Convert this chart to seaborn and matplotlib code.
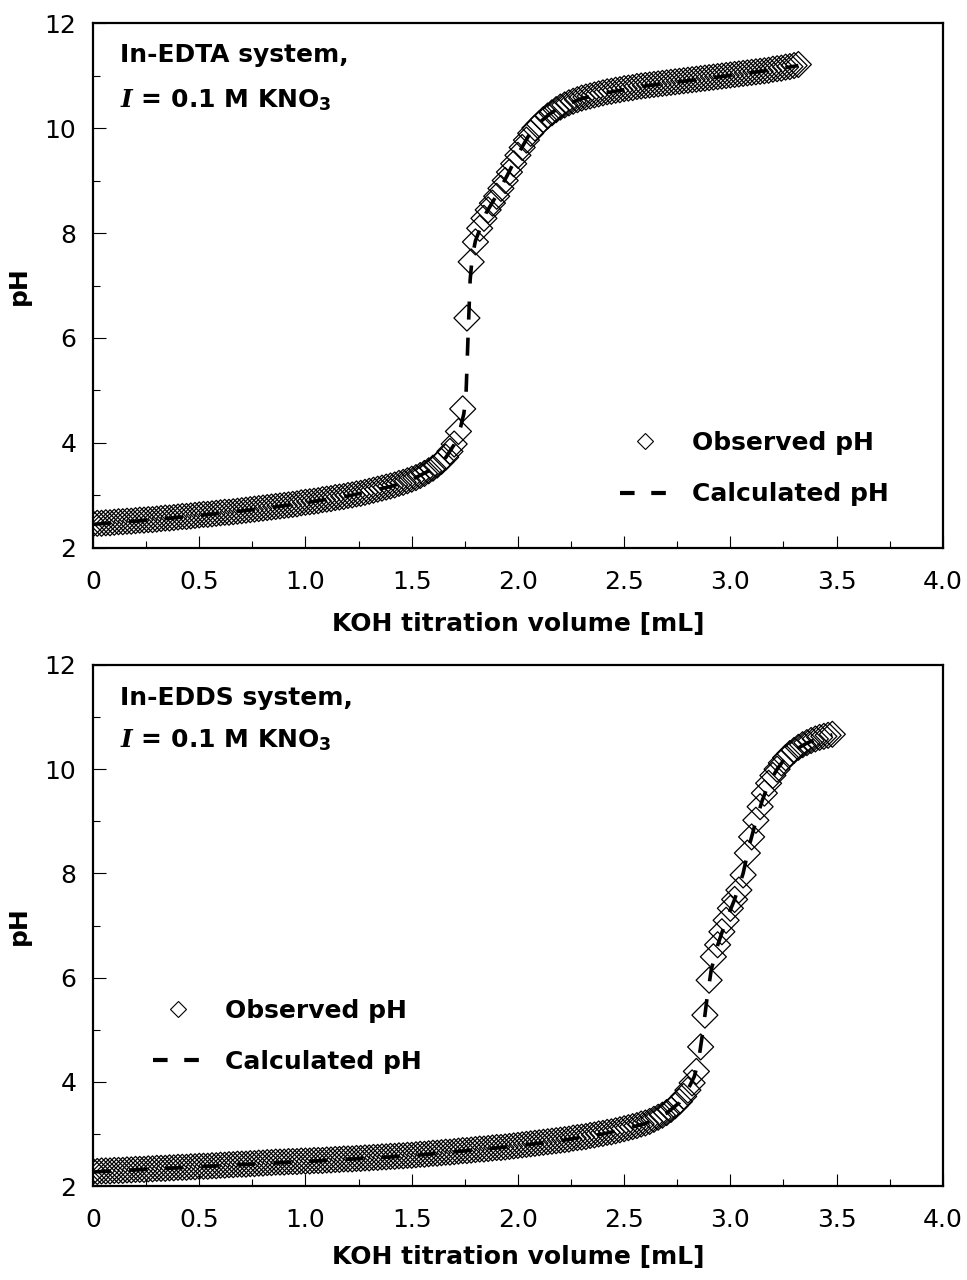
import matplotlib
matplotlib.use("Agg")
import matplotlib.pyplot as plt
from matplotlib.lines import Line2D
from matplotlib.ticker import MultipleLocator
import seaborn as sns

# In-EDTA system: observed titration points (KOH volume in mL, pH)
edta_vol = [
    0.00, 0.02, 0.04, 0.06, 0.08, 0.10, 0.12, 0.14, 0.16, 0.18,
    0.20, 0.22, 0.24, 0.26, 0.28, 0.30, 0.32, 0.34, 0.36, 0.38,
    0.40, 0.42, 0.44, 0.46, 0.48, 0.50, 0.52, 0.54, 0.56, 0.58,
    0.60, 0.62, 0.64, 0.66, 0.68, 0.70, 0.72, 0.74, 0.76, 0.78,
    0.80, 0.82, 0.84, 0.86, 0.88, 0.90, 0.92, 0.94, 0.96, 0.98,
    1.00, 1.02, 1.04, 1.06, 1.08, 1.10, 1.12, 1.14, 1.16, 1.18,
    1.20, 1.22, 1.24, 1.26, 1.28, 1.30, 1.32, 1.34, 1.36, 1.38,
    1.40, 1.42, 1.44, 1.46, 1.48, 1.50, 1.52, 1.54, 1.56, 1.58,
    1.60, 1.62, 1.64, 1.66, 1.68, 1.70, 1.72, 1.74, 1.76, 1.78,
    1.80, 1.82, 1.84, 1.86, 1.88, 1.90, 1.92, 1.94, 1.96, 1.98,
    2.00, 2.02, 2.04, 2.06, 2.08, 2.10, 2.12, 2.14, 2.16, 2.18,
    2.20, 2.22, 2.24, 2.26, 2.28, 2.30, 2.32, 2.34, 2.36, 2.38,
    2.40, 2.42, 2.44, 2.46, 2.48, 2.50, 2.52, 2.54, 2.56, 2.58,
    2.60, 2.62, 2.64, 2.66, 2.68, 2.70, 2.72, 2.74, 2.76, 2.78,
    2.80, 2.82, 2.84, 2.86, 2.88, 2.90, 2.92, 2.94, 2.96, 2.98,
    3.00, 3.02, 3.04, 3.06, 3.08, 3.10, 3.12, 3.14, 3.16, 3.18,
    3.20, 3.22, 3.24, 3.26, 3.28, 3.30, 3.32,
]
edta_ph = [
    2.46, 2.47, 2.47, 2.48, 2.48, 2.49, 2.50, 2.50, 2.51, 2.51,
    2.52, 2.53, 2.53, 2.54, 2.54, 2.55, 2.56, 2.57, 2.57, 2.58,
    2.59, 2.60, 2.60, 2.61, 2.62, 2.63, 2.64, 2.64, 2.65, 2.66,
    2.67, 2.68, 2.68, 2.69, 2.70, 2.71, 2.72, 2.73, 2.74, 2.75,
    2.76, 2.77, 2.78, 2.79, 2.80, 2.81, 2.82, 2.83, 2.84, 2.86,
    2.87, 2.88, 2.89, 2.90, 2.92, 2.93, 2.94, 2.96, 2.97, 2.98,
    3.00, 3.01, 3.03, 3.04, 3.06, 3.08, 3.10, 3.12, 3.14, 3.16,
    3.18, 3.20, 3.23, 3.25, 3.28, 3.31, 3.34, 3.38, 3.42, 3.47,
    3.52, 3.58, 3.65, 3.73, 3.84, 3.98, 4.22, 4.65, 6.38, 7.45,
    7.83, 8.09, 8.28, 8.44, 8.57, 8.70, 8.85, 9.00, 9.16, 9.32,
    9.48, 9.63, 9.77, 9.90, 10.00, 10.08, 10.16, 10.23, 10.29, 10.35,
    10.40, 10.44, 10.48, 10.51, 10.54, 10.57, 10.59, 10.61, 10.63, 10.65,
    10.67, 10.69, 10.70, 10.72, 10.73, 10.75, 10.76, 10.77, 10.79, 10.80,
    10.81, 10.82, 10.83, 10.84, 10.85, 10.86, 10.87, 10.88, 10.89, 10.90,
    10.91, 10.92, 10.93, 10.94, 10.95, 10.96, 10.97, 10.98, 10.99, 11.00,
    11.01, 11.02, 11.03, 11.04, 11.05, 11.06, 11.07, 11.08, 11.09, 11.10,
    11.12, 11.13, 11.14, 11.16, 11.17, 11.19, 11.21,
]

# In-EDTA system: calculated curve
edta_calc_vol = [0.00, 0.20, 0.40, 0.60, 0.80, 1.00, 1.20, 1.40, 1.50, 1.60,
                 1.66, 1.70, 1.73, 1.745, 1.755, 1.765, 1.775, 1.785, 1.80, 1.85,
                 1.90, 1.95, 2.00, 2.05, 2.10, 2.15, 2.20, 2.30, 2.40, 2.60,
                 2.80, 3.00, 3.20, 3.32]
edta_calc_ph = [2.45, 2.51, 2.58, 2.66, 2.75, 2.86, 2.99, 3.17, 3.30, 3.51,
                3.72, 3.97, 4.30, 4.55, 4.85, 6.00, 7.10, 7.55, 7.85, 8.38,
                8.72, 9.10, 9.50, 9.85, 10.10, 10.27, 10.40, 10.56, 10.66, 10.80,
                10.90, 11.00, 11.11, 11.19]

# In-EDDS system: observed titration points
edds_vol = [
    0.00, 0.02, 0.04, 0.06, 0.08, 0.10, 0.12, 0.14, 0.16, 0.18,
    0.20, 0.22, 0.24, 0.26, 0.28, 0.30, 0.32, 0.34, 0.36, 0.38,
    0.40, 0.42, 0.44, 0.46, 0.48, 0.50, 0.52, 0.54, 0.56, 0.58,
    0.60, 0.62, 0.64, 0.66, 0.68, 0.70, 0.72, 0.74, 0.76, 0.78,
    0.80, 0.82, 0.84, 0.86, 0.88, 0.90, 0.92, 0.94, 0.96, 0.98,
    1.00, 1.02, 1.04, 1.06, 1.08, 1.10, 1.12, 1.14, 1.16, 1.18,
    1.20, 1.22, 1.24, 1.26, 1.28, 1.30, 1.32, 1.34, 1.36, 1.38,
    1.40, 1.42, 1.44, 1.46, 1.48, 1.50, 1.52, 1.54, 1.56, 1.58,
    1.60, 1.62, 1.64, 1.66, 1.68, 1.70, 1.72, 1.74, 1.76, 1.78,
    1.80, 1.82, 1.84, 1.86, 1.88, 1.90, 1.92, 1.94, 1.96, 1.98,
    2.00, 2.02, 2.04, 2.06, 2.08, 2.10, 2.12, 2.14, 2.16, 2.18,
    2.20, 2.22, 2.24, 2.26, 2.28, 2.30, 2.32, 2.34, 2.36, 2.38,
    2.40, 2.42, 2.44, 2.46, 2.48, 2.50, 2.52, 2.54, 2.56, 2.58,
    2.60, 2.62, 2.64, 2.66, 2.68, 2.70, 2.72, 2.74, 2.76, 2.78,
    2.80, 2.82, 2.84, 2.86, 2.88, 2.90, 2.92, 2.94, 2.96, 2.98,
    3.00, 3.02, 3.04, 3.06, 3.08, 3.10, 3.12, 3.14, 3.16, 3.18,
    3.20, 3.22, 3.24, 3.26, 3.28, 3.30, 3.32, 3.34, 3.36, 3.38,
    3.40, 3.42, 3.44, 3.46, 3.48,
]
edds_ph = [
    2.28, 2.28, 2.29, 2.29, 2.29, 2.30, 2.30, 2.30, 2.31, 2.31,
    2.32, 2.32, 2.32, 2.33, 2.33, 2.34, 2.34, 2.34, 2.35, 2.35,
    2.36, 2.36, 2.36, 2.37, 2.37, 2.38, 2.38, 2.38, 2.39, 2.39,
    2.40, 2.40, 2.41, 2.41, 2.42, 2.42, 2.42, 2.43, 2.43, 2.44,
    2.44, 2.45, 2.45, 2.46, 2.46, 2.46, 2.47, 2.47, 2.47, 2.48,
    2.48, 2.48, 2.49, 2.49, 2.49, 2.50, 2.50, 2.51, 2.51, 2.52,
    2.52, 2.52, 2.53, 2.53, 2.54, 2.54, 2.55, 2.55, 2.56, 2.56,
    2.57, 2.57, 2.58, 2.58, 2.59, 2.59, 2.60, 2.61, 2.61, 2.62,
    2.63, 2.63, 2.64, 2.65, 2.65, 2.66, 2.67, 2.68, 2.68, 2.69,
    2.70, 2.71, 2.71, 2.72, 2.73, 2.74, 2.74, 2.75, 2.76, 2.77,
    2.78, 2.79, 2.80, 2.81, 2.82, 2.83, 2.84, 2.85, 2.86, 2.87,
    2.88, 2.89, 2.90, 2.92, 2.93, 2.94, 2.95, 2.97, 2.98, 3.00,
    3.01, 3.03, 3.04, 3.06, 3.08, 3.10, 3.12, 3.14, 3.16, 3.19,
    3.21, 3.24, 3.28, 3.32, 3.36, 3.41, 3.47, 3.54, 3.62, 3.72,
    3.84, 3.98, 4.20, 4.67, 5.28, 5.95, 6.40, 6.63, 6.88, 7.10,
    7.33, 7.50, 7.68, 7.97, 8.39, 8.70, 9.02, 9.28, 9.54, 9.73,
    9.88, 10.00, 10.12, 10.22, 10.30, 10.36, 10.42, 10.47, 10.51, 10.55,
    10.58, 10.61, 10.63, 10.65, 10.67,
]

# In-EDDS system: calculated curve
edds_calc_vol = [0.00, 0.50, 1.00, 1.50, 2.00, 2.20, 2.40, 2.50, 2.60, 2.70,
                 2.76, 2.80, 2.83, 2.85, 2.87, 2.89, 2.91, 2.94, 2.98, 3.02,
                 3.06, 3.09, 3.12, 3.15, 3.18, 3.22, 3.26, 3.30, 3.36, 3.42,
                 3.48]
edds_calc_ph = [2.27, 2.37, 2.47, 2.58, 2.77, 2.87, 3.00, 3.09, 3.20, 3.40,
                3.60, 3.85, 4.10, 4.40, 4.95, 5.60, 6.15, 6.62, 7.10, 7.50,
                8.00, 8.55, 9.00, 9.40, 9.72, 10.00, 10.22, 10.36, 10.50, 10.60,
                10.66]

panel_titles = ["In-EDTA system,", "In-EDDS system,"]
panel_subtitle = r"$I$ = 0.1 M KNO$_{3}$"
x_ticklabels = ["0", "0.5", "1.0", "1.5", "2.0", "2.5", "3.0", "3.5", "4.0"]

sns.set_style("ticks")
plt.rcParams["font.family"] = ["DejaVu Sans"]
plt.rcParams["text.color"] = "black"
plt.rcParams["axes.labelcolor"] = "black"
plt.rcParams["xtick.color"] = "black"
plt.rcParams["ytick.color"] = "black"
plt.rcParams["mathtext.fontset"] = "custom"
plt.rcParams["mathtext.it"] = "DejaVu Serif:italic:bold"
plt.rcParams["mathtext.rm"] = "DejaVu Sans:bold"
plt.rcParams["mathtext.bf"] = "DejaVu Sans:bold"

FS = 18

fig = plt.figure(figsize=(9.67, 12.8), dpi=100)
ax_top = fig.add_axes([0.0962, 0.5719, 0.8788, 0.4101])
ax_bot = fig.add_axes([0.0962, 0.0734, 0.8788, 0.4071])

panels = [
    (ax_top, edta_vol, edta_ph, edta_calc_vol, edta_calc_ph, panel_titles[0],
     (0.620, 0.151), (0.939, 0.853), -0.122),
    (ax_bot, edds_vol, edds_ph, edds_calc_vol, edds_calc_ph, panel_titles[1],
     (0.070, 0.287), (0.937, 0.856), -0.113),
]

for ax, vol, ph, cvol, cph, title, leg_pos, txt_y, xlab_y in panels:
    sns.scatterplot(x=vol, y=ph, ax=ax, marker="D", s=175,
                    facecolors="none", edgecolor="black", linewidth=0.9,
                    zorder=2)
    ax.collections[-1].set_facecolor("none")
    sns.lineplot(x=cvol, y=cph, ax=ax, color="black", linewidth=2.6,
                 linestyle=(0, (5, 5)), estimator=None, sort=False, zorder=3)

    ax.set_xlim(0, 4.0)
    ax.set_ylim(2, 12)
    ax.xaxis.set_minor_locator(MultipleLocator(0.25))
    ax.yaxis.set_major_locator(MultipleLocator(2))
    ax.yaxis.set_minor_locator(MultipleLocator(1))
    ax.set_xticks([0, 0.5, 1.0, 1.5, 2.0, 2.5, 3.0, 3.5, 4.0])
    ax.set_xticklabels(x_ticklabels)
    ax.tick_params(which="both", direction="in", width=0.8, colors="black",
                   labelsize=FS, top=False, right=False)
    ax.tick_params(axis="x", which="major", length=9, pad=16)
    ax.tick_params(axis="y", which="major", length=9, pad=12)
    ax.tick_params(which="minor", length=5)
    for sp in ax.spines.values():
        sp.set_visible(True)
        sp.set_linewidth(1.6)
        sp.set_color("black")

    ax.set_xlabel("KOH titration volume [mL]", fontsize=FS, fontweight="bold",
                  color="black")
    ax.set_ylabel("pH", fontsize=FS, fontweight="bold", color="black")
    ax.xaxis.set_label_coords(0.5, xlab_y)
    ax.yaxis.set_label_coords(-0.073, 0.5)

    ax.text(0.032, txt_y[0], title, transform=ax.transAxes, fontsize=FS,
            fontweight="bold", va="center", ha="left", color="black")
    ax.text(0.032, txt_y[1], panel_subtitle, transform=ax.transAxes,
            fontsize=FS, fontweight="bold", va="center", ha="left",
            color="black")

    handles = [
        Line2D([], [], marker="D", linestyle="none", markerfacecolor="none",
               markeredgecolor="black", markersize=8, markeredgewidth=0.8),
        Line2D([], [], color="black", linewidth=3, linestyle=(0, (3.5, 4))),
    ]
    leg = ax.legend(handles, ["Observed pH", "Calculated pH"],
                    loc="center left", bbox_to_anchor=leg_pos, frameon=False,
                    prop={"weight": "bold", "size": FS}, handlelength=2.0,
                    handletextpad=0.9, labelspacing=1.1, borderpad=0,
                    borderaxespad=0)
    for t in leg.get_texts():
        t.set_color("black")

fig.savefig("out.png", dpi=100)
